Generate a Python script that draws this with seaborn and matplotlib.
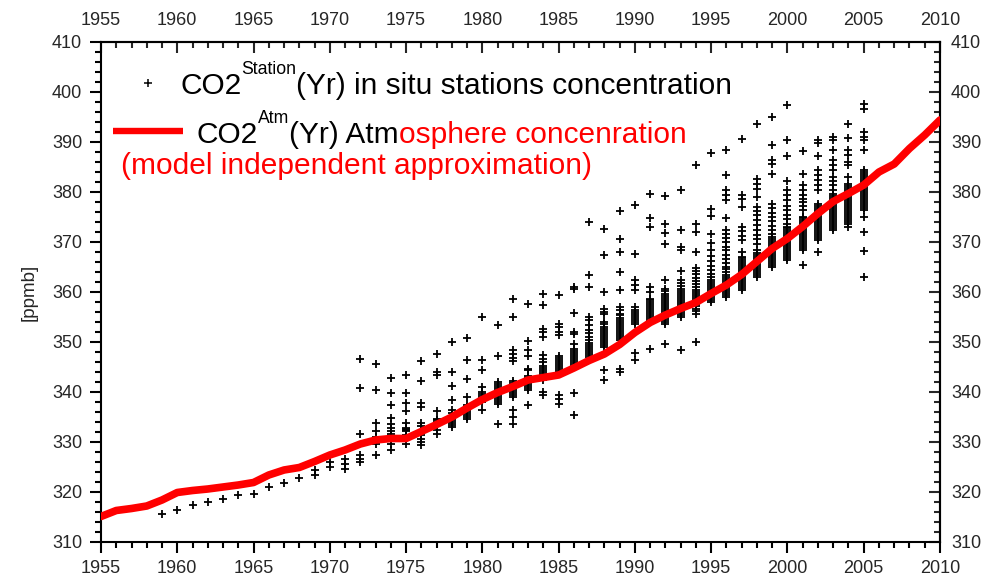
import matplotlib

matplotlib.use("Agg")
import matplotlib.pyplot as plt
import pandas as pd
import seaborn as sns
from matplotlib.ticker import MultipleLocator

sns.set_style("ticks")
plt.rcParams["font.family"] = ["Liberation Sans", "DejaVu Sans"]

RED = "#ff0000"

# model independent atmosphere approximation (red curve)
atm_years = list(range(1955, 2011))
atm_ppm = [
    315.1, 316.3, 316.7, 317.2, 318.4, 319.9, 320.3, 320.6, 321.0, 321.4,
    321.9, 323.4, 324.4, 324.9, 326.1, 327.4, 328.4, 329.6, 330.4, 330.7,
    330.7, 332.1, 333.5, 335.0, 336.8, 338.5, 339.9, 341.1, 342.4, 342.9,
    343.4, 344.8, 346.3, 347.6, 349.5, 351.9, 353.9, 355.4, 356.7, 357.9,
    359.7, 361.4, 363.5, 366.1, 368.7, 370.7, 373.1, 375.7, 378.1, 379.7,
    381.4, 384.0, 385.6, 388.7, 391.4, 394.4,
]

# in situ station yearly values (one list per year)
station_years = list(range(1959, 2006))
station_ppm = [
    [315.7],
    [316.5],
    [317.4],
    [318.1],
    [318.7],
    [319.4],
    [319.7],
    [321.1],
    [321.9],
    [322.9],
    [323.5, 324.4],
    [325.1, 326.1],
    [324.7, 325.7, 326.7],
    [326.1, 326.7, 327.4, 331.7, 340.9, 346.7],
    [327.4, 329.7, 331.1, 332.3, 333.9, 340.4, 345.7],
    [328.5, 329.7, 330.7, 331.6, 332.3, 332.9, 333.6, 334.9, 337.4, 339.9, 342.9],
    [329.7, 331.4, 332.3, 332.5, 332.7, 332.9, 333.9, 336.2, 337.9, 339.9, 343.5],
    [329.4, 330.1, 330.7, 331.4, 332.3, 333.2, 333.9, 337.1, 337.9, 342.3, 346.3],
    [331.6, 332.4, 333.4, 333.8, 334.1, 334.4, 334.7, 336.3, 343.5, 344.1, 347.6],
    [333.1, 333.5, 333.9, 334.3, 334.7, 334.9, 335.9, 336.5, 338.5, 341.3, 344.1, 350.1],
    [334.7, 335.1, 335.5, 335.9, 336.3, 336.7, 337.1, 337.5, 339.1, 342.7, 346.4, 350.9],
    [336.4, 338.1, 338.5, 338.9, 339.3, 339.7, 340.1, 341.1, 344.4, 346.5, 355.1],
    [333.6, 337.7, 338.1, 338.5, 338.9, 339.3, 339.7, 340.1, 340.5, 340.9, 341.3,
     341.7, 342.1, 347.2, 353.4],
    [333.6, 335.1, 336.5, 339.1, 339.5, 339.9, 340.3, 340.7, 341.1, 341.5, 341.9,
     342.3, 346.3, 346.9, 347.7, 348.4, 355.1, 358.7],
    [337.4, 340.4, 340.8, 341.2, 341.6, 342.0, 342.4, 342.8, 343.2, 344.4, 344.7,
     347.3, 348.5, 350.3, 357.6],
    [339.4, 340.1, 342.4, 342.8, 343.2, 343.6, 344.0, 344.4, 344.8, 345.2, 346.1,
     346.7, 347.4, 351.1, 352.1, 352.7, 357.4, 359.7],
    [337.7, 338.7, 339.4, 343.7, 344.1, 344.5, 344.9, 345.3, 345.7, 346.1, 346.5,
     346.9, 347.3, 351.4, 352.1, 353.1, 353.7, 359.4],
    [335.4, 339.9, 345.1, 345.5, 345.9, 346.3, 346.7, 347.1, 347.5, 347.9, 348.3,
     348.7, 349.7, 351.6, 352.1, 355.9, 360.6, 361.1],
    [347.1, 347.5, 347.9, 348.3, 348.7, 349.1, 349.5, 349.9, 350.4, 351.1, 351.8,
     352.5, 353.4, 354.4, 355.1, 361.1, 363.4, 374.1],
    [342.4, 344.4, 349.1, 349.5, 349.9, 350.3, 350.7, 351.1, 351.5, 351.9, 352.3,
     352.7, 353.1, 353.6, 354.1, 355.7, 356.1, 356.7, 360.1, 367.4, 372.7],
    [344.1, 344.7, 350.4, 350.8, 351.2, 351.6, 352.0, 352.4, 352.8, 353.2, 353.6,
     354.0, 354.4, 354.8, 355.4, 355.7, 356.4, 357.1, 360.5, 364.1, 368.1, 370.7,
     376.3],
    [346.4, 347.9, 353.7, 354.1, 354.5, 354.9, 355.3, 355.7, 356.1, 356.5, 357.1,
     360.4, 361.4, 362.4, 367.7, 377.4],
    [348.7, 354.4, 354.8, 355.2, 355.6, 356.0, 356.4, 356.8, 357.2, 357.6, 358.0,
     358.4, 358.7, 360.1, 361.1, 373.1, 374.9, 379.6],
    [349.6, 353.7, 354.1, 354.5, 354.9, 355.3, 355.7, 356.1, 356.5, 356.9, 357.3,
     357.7, 358.1, 358.5, 358.9, 359.3, 359.7, 360.2, 360.7, 362.5, 369.6, 371.9,
     373.7, 379.3],
    [348.5, 355.1, 355.5, 355.9, 356.3, 356.7, 357.1, 357.5, 357.9, 358.3, 358.7,
     359.1, 359.5, 359.9, 360.3, 360.7, 361.2, 361.8, 362.4, 364.3, 368.4, 369.1,
     372.4, 380.5],
    [350.1, 355.7, 356.2, 356.7, 357.2, 357.7, 358.1, 358.5, 358.9, 359.3, 359.7,
     360.1, 360.5, 361.0, 361.6, 362.2, 362.9, 363.6, 364.3, 364.9, 368.1, 372.1,
     373.7, 385.4],
    [358.1, 358.5, 358.9, 359.3, 359.7, 360.1, 360.5, 360.9, 361.3, 361.7, 362.1,
     362.4, 363.0, 363.6, 364.4, 365.2, 366.2, 367.2, 368.4, 369.8, 371.7, 375.2,
     376.7, 387.9],
    [359.1, 359.5, 359.9, 360.3, 360.7, 361.1, 361.5, 361.9, 362.3, 362.7, 363.1,
     363.5, 364.0, 364.6, 365.1, 365.8, 366.6, 367.4, 368.4, 369.1, 370.0, 370.8,
     371.6, 372.4, 374.9, 378.4, 379.4, 380.4, 383.4, 388.4],
    [360.4, 360.8, 361.2, 361.6, 362.0, 362.4, 362.8, 363.2, 363.6, 364.0, 364.4,
     364.8, 365.2, 365.6, 366.0, 366.4, 366.8, 367.1, 368.1, 370.4, 371.3, 372.2,
     373.1, 377.1, 378.7, 379.4, 390.7],
    [363.1, 363.5, 363.9, 364.3, 364.7, 365.1, 365.5, 365.9, 366.3, 366.7, 367.1,
     367.5, 367.9, 368.4, 369.7, 370.6, 371.5, 372.4, 373.4, 374.4, 375.5, 376.3,
     377.1, 379.1, 380.7, 381.7, 382.7, 393.7],
    [365.1, 365.5, 365.9, 366.3, 366.7, 367.1, 367.5, 367.9, 368.3, 368.7, 369.1,
     369.5, 369.9, 370.3, 370.7, 371.1, 371.7, 372.4, 373.3, 374.2, 375.0, 375.9,
     376.8, 377.7, 383.7, 385.6, 386.4, 389.4, 395.1],
    [366.4, 366.8, 367.2, 367.6, 368.0, 368.4, 368.8, 369.2, 369.6, 370.0, 370.4,
     370.8, 371.2, 371.6, 372.0, 372.4, 372.8, 373.1, 373.7, 374.6, 375.5, 376.4,
     377.3, 378.4, 379.4, 380.4, 382.3, 387.2, 390.4, 397.4],
    [365.4, 368.4, 368.8, 369.2, 369.6, 370.0, 370.4, 370.8, 371.2, 371.6, 372.0,
     372.4, 372.8, 373.2, 373.6, 374.0, 374.4, 374.8, 375.1, 376.4, 377.2, 378.0,
     378.7, 379.4, 380.4, 381.4, 383.7, 388.3],
    [368.1, 370.4, 370.8, 371.2, 371.6, 372.0, 372.4, 372.8, 373.2, 373.6, 374.0,
     374.4, 374.8, 375.2, 375.6, 376.0, 376.4, 376.8, 377.2, 377.7, 380.4, 381.4,
     382.4, 383.4, 384.4, 387.2, 389.9, 390.4],
    [372.4, 372.8, 373.2, 373.6, 374.0, 374.4, 374.8, 375.2, 375.6, 376.0, 376.4,
     376.8, 377.2, 377.6, 378.0, 378.4, 378.8, 379.2, 379.7, 380.4, 381.4, 382.2,
     383.1, 384.4, 385.4, 386.4, 388.5, 390.5, 391.1],
    [373.1, 373.7, 374.1, 374.5, 374.9, 375.3, 375.7, 376.1, 376.5, 376.9, 377.3,
     377.7, 378.1, 378.5, 378.9, 379.3, 379.7, 380.1, 380.5, 380.9, 381.3, 381.7,
     383.1, 385.4, 386.1, 387.4, 388.4, 390.9, 393.7],
    [363.0, 368.3, 372.1, 375.1, 376.4, 376.8, 377.2, 377.6, 378.0, 378.4, 378.8,
     379.2, 379.6, 380.0, 380.4, 380.8, 381.2, 381.6, 382.0, 382.4, 382.8, 383.2,
     383.6, 384.1, 384.5, 388.5, 390.5, 391.1, 392.1, 396.7, 397.6],
]

year_ticks = list(range(1955, 2011, 5))
ppm_ticks = list(range(310, 411, 10))


def chain_text(ax, pieces, x0, y0):
    """Write text pieces one after another on a common baseline."""
    prev = None
    for text, size, color, rise in pieces:
        if prev is None:
            t = ax.text(x0, y0, text, fontsize=size, color=color,
                        transform=ax.transAxes, va="baseline", ha="left")
        else:
            t = ax.annotate(text, xy=(1, y0), xycoords=(prev, ax.transAxes),
                            xytext=(0, rise), textcoords="offset points",
                            fontsize=size, color=color, va="baseline", ha="left")
        prev = t


stations = pd.DataFrame({"year": station_years, "ppm": station_ppm}).explode("ppm")
stations["ppm"] = stations["ppm"].astype(float)
atm = pd.DataFrame({"year": atm_years, "ppm": atm_ppm})

fig = plt.figure(figsize=(9.93, 5.82), dpi=100)
ax = fig.add_axes([101 / 993, 40 / 582, 839 / 993, 500 / 582])

sns.scatterplot(data=stations, x="year", y="ppm", marker="+", color="black",
                s=34, linewidth=1.3, legend=False, ax=ax, zorder=2)
sns.lineplot(data=atm, x="year", y="ppm", color=RED, linewidth=5.5, ax=ax, zorder=3)

ax.set_xlim(1955, 2010)
ax.set_ylim(310, 410)
ax.set_xlabel("")
ax.set_ylabel("[ppmb]", fontsize=13.5, labelpad=10)

ax.set_xticks(year_ticks)
ax.set_yticks(ppm_ticks)
ax.xaxis.set_minor_locator(MultipleLocator(1))
ax.yaxis.set_minor_locator(MultipleLocator(2))

for s in ax.spines.values():
    s.set_visible(True)
    s.set_linewidth(1.5)
    s.set_color("black")

ax.tick_params(which="both", direction="out", width=1.5, color="black",
               top=False, right=False, labelsize=13)
ax.tick_params(which="major", length=8)
ax.tick_params(which="minor", length=4.3)
ax.tick_params(axis="x", pad=5)
ax.tick_params(axis="y", pad=5.5)

# mirrored axes: ticks pointing inward, labels outside
top = ax.secondary_xaxis("top")
top.set_xticks(year_ticks)
top.set_xticks(list(range(1955, 2011)), minor=True)
top.tick_params(which="both", direction="in", width=1.5, labelsize=13, pad=9.5)
top.tick_params(which="major", length=8)
top.tick_params(which="minor", length=4.3)

right = ax.secondary_yaxis("right")
right.set_yticks(ppm_ticks)
right.set_yticks(list(range(310, 411, 2)), minor=True)
right.tick_params(which="both", direction="in", width=1.5, labelsize=13, pad=8)
right.tick_params(which="major", length=8)
right.tick_params(which="minor", length=4.3)
for sec in (top, right):
    for s in sec.spines.values():
        s.set_linewidth(1.5)

# legend block drawn by hand
ax.plot([0.056], [0.918], marker="+", color="black", ms=5.5, mew=1.1,
        transform=ax.transAxes)
ax.plot([0.0143, 0.0977], [0.822, 0.822], color=RED, lw=4.6,
        solid_capstyle="butt", transform=ax.transAxes)

big, sup = 21.5, 12.7
chain_text(ax, [("CO2", big, "black", 0),
                ("Station", sup, "black", 14.4),
                ("(Yr) in situ stations concentration", big, "black", 0)],
           0.0942, 0.897)
chain_text(ax, [("CO2", big, "black", 0),
                ("Atm", sup, "black", 14.4),
                ("(Yr) Atm", big, "black", 0),
                ("osphere concenration", big, RED, 0)],
           0.1144, 0.798)
chain_text(ax, [("(model independent approximation)", big, RED, 0)],
           0.0238, 0.736)

fig.savefig("out.png", dpi=100)
